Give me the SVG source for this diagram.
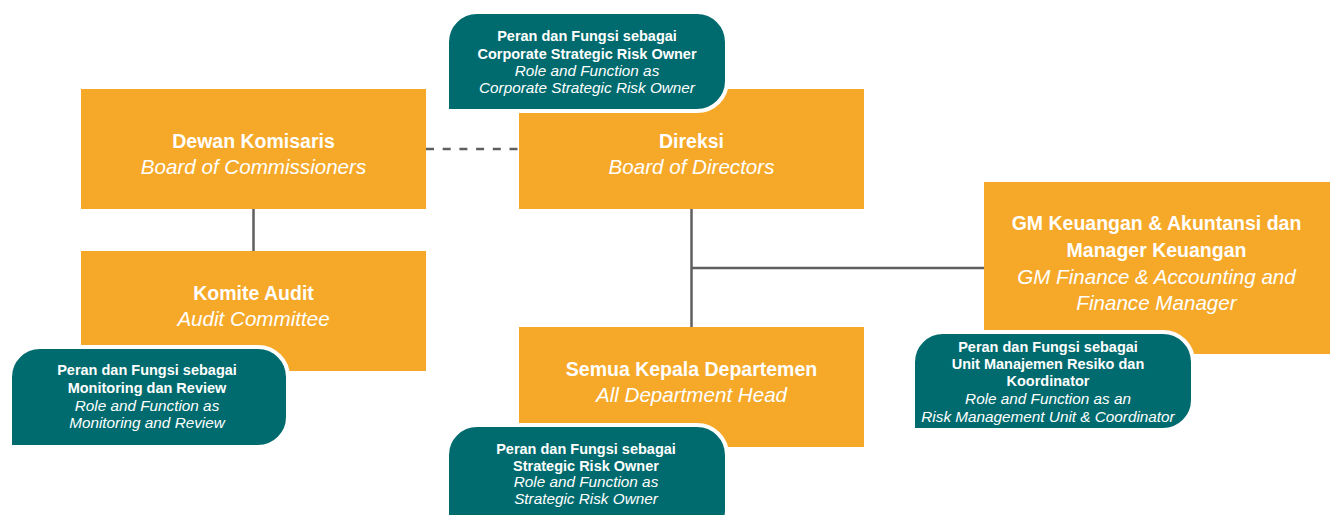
<svg xmlns="http://www.w3.org/2000/svg" width="1330" height="515" viewBox="0 0 1330 515">
<style>
.box{fill:#F6A929}
.tag{fill:#006B6E;stroke:#ffffff;stroke-width:4}
.ln{stroke:#5f5f5f;stroke-width:2.5;fill:none}
text{font-family:"Liberation Sans",Arial,sans-serif;fill:#ffffff;text-anchor:middle}
.b{font-weight:bold;font-size:19.5px}
.i{font-style:italic;font-size:20.6px}
.tb{font-weight:bold;font-size:14.5px}
.ti{font-style:italic;font-size:15.3px}
</style>
<rect width="1330" height="515" fill="#ffffff"/>
<g id="connectors">
<line class="ln" x1="426" y1="149" x2="519" y2="149" stroke-dasharray="8,8.7"/>
<line class="ln" x1="253.5" y1="209" x2="253.5" y2="251"/>
<line class="ln" x1="691.5" y1="209" x2="691.5" y2="327"/>
<line class="ln" x1="691.5" y1="268" x2="984" y2="268"/>
</g>
<g id="dewan-komisaris">
<rect class="box" x="81" y="89" width="345" height="120"/>
<text class="b" x="253.5" y="148">Dewan Komisaris</text>
<text class="i" x="253.5" y="173.5">Board of Commissioners</text>
</g>
<g id="direksi">
<rect class="box" x="519" y="89" width="345" height="120"/>
<text class="b" x="691.5" y="148">Direksi</text>
<text class="i" x="691.5" y="173.5">Board of Directors</text>
</g>
<g id="komite-audit">
<rect class="box" x="81" y="251" width="345" height="120"/>
<text class="b" x="253.5" y="300">Komite Audit</text>
<text class="i" x="253.5" y="326">Audit Committee</text>
</g>
<g id="kepala-departemen">
<rect class="box" x="519" y="327" width="345" height="120"/>
<text class="b" x="691.5" y="376">Semua Kepala Departemen</text>
<text class="i" x="691.5" y="402">All Department Head</text>
</g>
<g id="gm-keuangan">
<rect class="box" x="984" y="182" width="346" height="172"/>
<text class="b" x="1156.5" y="230">GM Keuangan &amp; Akuntansi dan</text>
<text class="b" x="1156.5" y="256.5">Manager Keuangan</text>
<text class="i" x="1156.5" y="284">GM Finance &amp; Accounting and</text>
<text class="i" x="1156.5" y="309.5">Finance Manager</text>
</g>
<g id="tag-corporate">
<path class="tag" d="M447,111 V42 A30,30 0 0 1 477,12 H697 A30,30 0 0 1 727,42 V81 A30,30 0 0 1 697,111 Z"/>
<text class="tb" x="587" y="40.5">Peran dan Fungsi sebagai</text>
<text class="tb" x="587" y="58.5">Corporate Strategic Risk Owner</text>
<text class="ti" x="587" y="76">Role and Function as</text>
<text class="ti" x="587" y="93">Corporate Strategic Risk Owner</text>
</g>
<g id="tag-monitoring">
<path class="tag" d="M10,447 V377 A30,30 0 0 1 40,347 H258 A30,30 0 0 1 288,377 V417 A30,30 0 0 1 258,447 Z"/>
<text class="tb" x="147" y="375">Peran dan Fungsi sebagai</text>
<text class="tb" x="147" y="393">Monitoring dan Review</text>
<text class="ti" x="147" y="411">Role and Function as</text>
<text class="ti" x="147" y="428">Monitoring and Review</text>
</g>
<g id="tag-strategic">
<path class="tag" d="M447,540 V455 A30,30 0 0 1 477,425 H697 A30,30 0 0 1 727,455 V510 A30,30 0 0 1 697,540 Z"/>
<text class="tb" x="586" y="453.5">Peran dan Fungsi sebagai</text>
<text class="tb" x="586" y="470.5">Strategic Risk Owner</text>
<text class="ti" x="586" y="487">Role and Function as</text>
<text class="ti" x="586" y="504">Strategic Risk Owner</text>
</g>
<g id="tag-risk-unit">
<path class="tag" d="M913,430 V362 A30,30 0 0 1 943,332 H1163 A30,30 0 0 1 1193,362 V400 A30,30 0 0 1 1163,430 Z"/>
<text class="tb" x="1048" y="352">Peran dan Fungsi sebagai</text>
<text class="tb" x="1048" y="369">Unit Manajemen Resiko dan</text>
<text class="tb" x="1048" y="386">Koordinator</text>
<text class="ti" x="1048" y="403.5">Role and Function as an</text>
<text class="ti" x="1048" y="421.5">Risk Management Unit &amp; Coordinator</text>
</g>
</svg>
